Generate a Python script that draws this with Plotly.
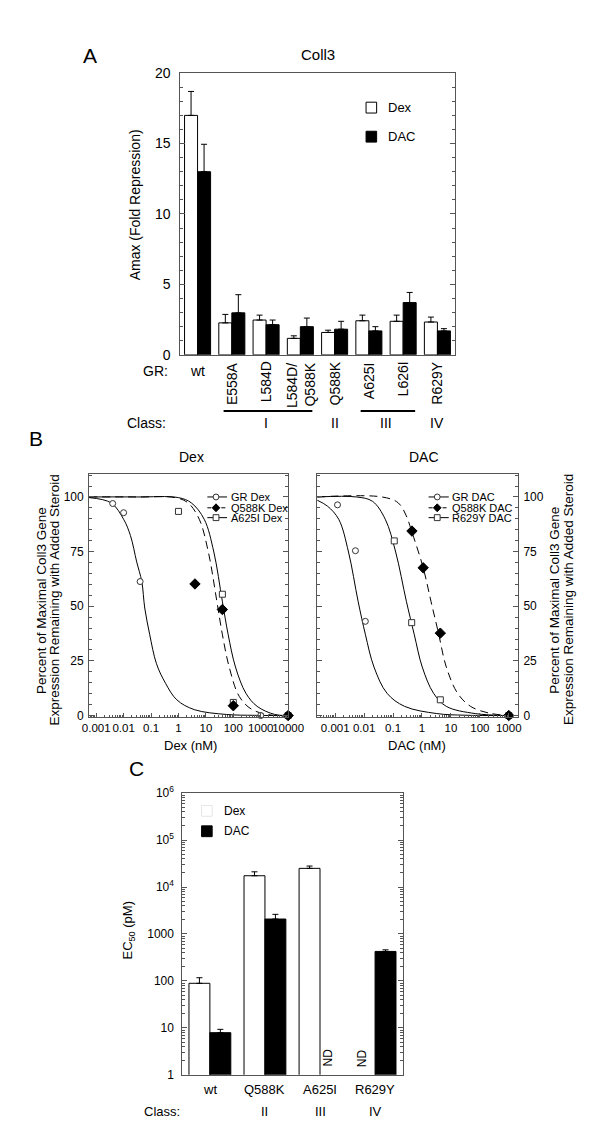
import plotly.graph_objects as go

W, H = 602, 1129
FONT = "Liberation Sans, Arial, sans-serif"
AXIS = "#555555"

# ---- panel A: Amax (fold repression) on Coll3
a_mutants = ["wt", "E558A", "L584D", "L584D/Q588K", "Q588K", "A625I", "L626I", "R629Y"]
a_labels = ["wt", "E558A", "L584D", "L584D/<br>Q588K", "Q588K", "A625I", "L626I", "R629Y"]
a_dex = [17.0, 2.27, 2.47, 1.17, 1.59, 2.42, 2.38, 2.33]
a_dex_err = [1.7, 0.6, 0.35, 0.18, 0.16, 0.4, 0.44, 0.35]
a_dac = [13.0, 2.98, 2.14, 2.0, 1.82, 1.7, 3.71, 1.7]
a_dac_err = [1.95, 1.29, 0.33, 0.61, 0.56, 0.3, 0.72, 0.16]
# class name, first mutant index, last mutant index
a_classes = [("I", 1, 3), ("II", 4, 4), ("III", 5, 6), ("IV", 7, 7)]

# ---- panel B: dose response, Dex
gr_dex_x = [0.004, 0.01, 0.04, 1000, 10000]
gr_dex_y = [97.0, 92.8, 61.3, 0, 0]
q588k_dex_x = [4, 40, 100, 10000]
q588k_dex_y = [60.2, 48.5, 4.5, 0]
a625i_dex_x = [1, 40, 100, 10000]
a625i_dex_y = [93.4, 55.5, 6.0, 0]
# fitted curves
gr_dex_fit_x = [0.00055, 0.0035, 0.01, 0.0178, 0.03, 0.046, 0.059, 0.089, 0.158, 0.34, 0.87, 3.8, 56, 600, 10000]
gr_dex_fit_y = [99.7, 97.3, 89.8, 82.3, 70.3, 61.3, 49.2, 37.2, 23.7, 14.7, 7.2, 2.7, 0.5, 0.1, 0]
q588k_dex_fit_x = [0.00055, 0.03, 0.76, 2.24, 5.75, 12.3, 25.1, 39.8, 70.8, 166, 490, 3236, 10000]
q588k_dex_fit_y = [100, 100, 99.7, 97.3, 89.8, 74.8, 52.3, 37.2, 22.2, 8.7, 2.7, 0, 0]
a625i_dex_fit_x = [0.00055, 0.03, 1, 2.95, 8.7, 19.5, 39.8, 64.6, 120, 288, 741, 3236, 10000]
a625i_dex_fit_y = [100, 100, 99.7, 97.3, 89.8, 74.8, 52.3, 37.2, 22.2, 10.2, 4.2, 0.5, 0]

# ---- panel B: dose response, DAC
gr_dac_x = [0.0012, 0.005, 0.011, 1000]
gr_dac_y = [96.4, 75.4, 43.1, 0]
q588k_dac_x = [0.45, 1.1, 4.3, 1000]
q588k_dac_y = [84.4, 67.6, 37.7, 0]
r629y_dac_x = [0.11, 0.44, 4.3, 1000]
r629y_dac_y = [79.9, 42.5, 7.2, 0]
gr_dac_fit_x = [0.00024, 0.00054, 0.00132, 0.00288, 0.00617, 0.011, 0.0219, 0.0617, 0.251, 3.24, 30, 1000]
gr_dac_fit_y = [98.5, 95.8, 89.8, 74.8, 52.3, 37.2, 22.2, 10.2, 4.2, 0.9, 0.15, 0]
q588k_dac_fit_x = [0.00024, 0.0417, 0.151, 0.288, 0.437, 1.10, 2.04, 3.72, 6.92, 17.0, 47.9, 195, 1000]
q588k_dac_fit_y = [100, 100, 97.3, 91.3, 84.4, 67.6, 52.3, 37.7, 22.2, 10.2, 4.2, 1.2, 0]
r629y_dac_fit_x = [0.00024, 0.0054, 0.0195, 0.0537, 0.123, 0.288, 0.537, 1.02, 2.51, 6.92, 69, 1000]
r629y_dac_fit_y = [100, 100, 98, 89.8, 74.8, 52.3, 37.2, 22.2, 10.2, 4.2, 0.9, 0]

dex_ticks = [0.001, 0.01, 0.1, 1, 10, 100, 1000, 10000]
dex_ticktext = ["0.001", "0.01", "0.1", "1", "10", "100", "1000", "10000"]
dac_ticks = [0.001, 0.01, 0.1, 1, 10, 100, 1000]
dac_ticktext = ["0.001", "0.01", "0.1", "1", "10", "100", "1000"]

# ---- panel C: EC50 (pM)
c_mutants = ["wt", "Q588K", "A625I", "R629Y"]
c_classes = ["", "II", "III", "IV"]
c_dex = [89, 17400, 25000, None]
c_dex_err = [28, 3700, 3000, 0]
c_dac = [7.9, 2080, None, 425]
c_dac_err = [1.4, 540, 0, 35]
c_ticks = [1, 10, 100, 1000, 1e4, 1e5, 1e6]
c_ticktext = ["1", "10", "100", "1000", "10<sup>4</sup>", "10<sup>5</sup>", "10<sup>6</sup>"]


def X(p):
    return p / W


def Y(p):
    return 1 - p / H


def note(text, x, y, size=13, **kw):
    d = dict(text=text, x=X(x), y=Y(y), xref="paper", yref="paper", showarrow=False,
             xanchor="center", yanchor="middle", font=dict(size=size, color="black", family=FONT))
    d.update(kw)
    return d


def log_minor(lo, hi):
    return [m * 10 ** e for e in range(lo, hi) for m in range(2, 10)]


def up_err(vals):
    return dict(type="data", symmetric=False, array=vals, arrayminus=[0] * len(vals),
                color="black", thickness=1, width=3)


fig = go.Figure()

# panel A bars
fig.add_trace(go.Bar(x=a_mutants, y=a_dex, name="Dex", marker=dict(color="white", line=dict(color="black", width=1)),
                     error_y=up_err(a_dex_err), xaxis="x", yaxis="y", showlegend=False))
fig.add_trace(go.Bar(x=a_mutants, y=a_dac, name="DAC", marker=dict(color="black", line=dict(color="black", width=1)),
                     error_y=up_err(a_dac_err), xaxis="x", yaxis="y", showlegend=False))

# panel B curves
line = dict(color="black", width=1)
dash = dict(color="black", width=1, dash="8px,5px")
for fx, fy, st, ax in [
    (gr_dex_fit_x, gr_dex_fit_y, line, "2"),
    (a625i_dex_fit_x, a625i_dex_fit_y, line, "2"),
    (q588k_dex_fit_x, q588k_dex_fit_y, dash, "2"),
    (gr_dac_fit_x, gr_dac_fit_y, line, "3"),
    (r629y_dac_fit_x, r629y_dac_fit_y, line, "3"),
    (q588k_dac_fit_x, q588k_dac_fit_y, dash, "3"),
]:
    fig.add_trace(go.Scatter(x=fx, y=fy, mode="lines", line=dict(st, shape="spline"),
                             xaxis="x" + ax, yaxis="y" + ax, showlegend=False, hoverinfo="skip"))

circle = dict(symbol="circle", size=6, color="white", line=dict(color="#333", width=1))
square = dict(symbol="square", size=6, color="white", line=dict(color="#333", width=1))
diamond = dict(symbol="diamond", size=8, color="black", line=dict(color="black", width=1))
for px_, py_, mk, name, ax in [
    (gr_dex_x, gr_dex_y, circle, "GR Dex", "2"),
    (a625i_dex_x, a625i_dex_y, square, "A625I Dex", "2"),
    (q588k_dex_x, q588k_dex_y, diamond, "Q588K Dex", "2"),
    (gr_dac_x, gr_dac_y, circle, "GR DAC", "3"),
    (r629y_dac_x, r629y_dac_y, square, "R629Y DAC", "3"),
    (q588k_dac_x, q588k_dac_y, diamond, "Q588K DAC", "3"),
]:
    fig.add_trace(go.Scatter(x=px_, y=py_, mode="markers", marker=mk, name=name, cliponaxis=False,
                             xaxis="x" + ax, yaxis="y" + ax, showlegend=False))

# panel C bars
fig.add_trace(go.Bar(x=c_mutants, y=c_dex, name="Dex", marker=dict(color="white", line=dict(color="black", width=1)),
                     error_y=up_err(c_dex_err), xaxis="x4", yaxis="y4", showlegend=False))
fig.add_trace(go.Bar(x=c_mutants, y=c_dac, name="DAC", marker=dict(color="black", line=dict(color="black", width=1)),
                     error_y=up_err(c_dac_err), xaxis="x4", yaxis="y4", showlegend=False))

tick_common = dict(ticks="inside", tickcolor=AXIS, showline=True, linecolor=AXIS, linewidth=1, tickangle=0,
                   showgrid=False, zeroline=False, tickfont=dict(size=12, color="black", family=FONT))

fig.update_layout(
    width=W, height=H, autosize=False, margin=dict(l=0, r=0, t=0, b=0),
    paper_bgcolor="white", plot_bgcolor="white", showlegend=False,
    barmode="group", bargap=0.24, bargroupgap=0,
    font=dict(family=FONT, color="black"),
    xaxis=dict(domain=[X(172), X(457)], anchor="y", range=[-0.5, 7.5], showticklabels=False,
               showline=True, linecolor=AXIS, mirror=True, ticks="", showgrid=False),
    yaxis=dict(tick_common, domain=[Y(343), Y(57)], anchor="x", range=[0, 20], dtick=5, ticklen=5,
               mirror="ticks", tickfont=dict(size=14, family=FONT, color="black"), ticklabelstandoff=6,
               minor=dict(dtick=1, ticks="inside", ticklen=3, tickcolor=AXIS)),
    xaxis2=dict(tick_common, domain=[X(77), X(284)], anchor="y2", type="log", range=[-3.26, 4.0],
                tickmode="array", tickvals=dex_ticks, ticktext=dex_ticktext, ticklen=4, mirror=True,
                tickfont=dict(size=11.5, family=FONT, color="black"),
                minor=dict(tickmode="array", tickvals=log_minor(-4, 4), ticks="inside", ticklen=2, tickcolor=AXIS)),
    yaxis2=dict(tick_common, domain=[Y(711), Y(464)], anchor="x2", range=[-0.8, 110.5], tick0=0, dtick=25,
                ticklen=5, mirror="ticks", ticklabelstandoff=2,
                minor=dict(dtick=5, ticks="inside", ticklen=3, tickcolor=AXIS)),
    xaxis3=dict(tick_common, domain=[X(314), X(523)], anchor="y3", type="log", range=[-3.63, 3.32],
                tickmode="array", tickvals=dac_ticks, ticktext=dac_ticktext, ticklen=4, mirror=True,
                tickfont=dict(size=11.5, family=FONT, color="black"),
                minor=dict(tickmode="array", tickvals=log_minor(-4, 4), ticks="inside", ticklen=2, tickcolor=AXIS)),
    yaxis3=dict(tick_common, domain=[Y(711), Y(464)], anchor="x3", side="right", range=[-0.8, 110.5],
                tick0=0, dtick=25, ticklen=5, mirror="ticks", ticklabelstandoff=2,
                minor=dict(dtick=5, ticks="inside", ticklen=3, tickcolor=AXIS)),
    xaxis4=dict(domain=[X(174), X(403)], anchor="y4", range=[-0.5, 3.5], showticklabels=False,
                showline=True, linecolor=AXIS, mirror=True, ticks="", showgrid=False),
    yaxis4=dict(tick_common, domain=[Y(1074), Y(788)], anchor="x4", type="log", range=[0, 6],
                tickmode="array", tickvals=c_ticks, ticktext=c_ticktext, ticklen=5, mirror="ticks",
                ticklabelstandoff=5,
                minor=dict(tickmode="array", tickvals=log_minor(0, 6), ticks="inside", ticklen=3, tickcolor=AXIS)),
)

ann = []
shapes = []

# panel letters and titles
ann.append(note("A", 78, 39, 21))
ann.append(note("B", 22, 428, 21))
ann.append(note("C", 126, 763, 21))
ann.append(note("Coll3", 315, 38, 15))
ann.append(note("Amax (Fold Repression)", 125, 191, 14, textangle=-90))

# panel A category labels
ann.append(note("GR:", 146, 359, 14))
for i, lab in enumerate(a_labels):
    if i == 0:
        ann.append(dict(note(lab, 0, 359, 14), x=a_mutants[i], xref="x"))
    else:
        ann.append(dict(note(lab, 0, 348, 14, textangle=-90, yanchor="top", align="right"),
                        x=a_mutants[i], xref="x"))
ann.append(note("Class:", 137, 412, 14))
for name, first, last in a_classes:
    ann.append(dict(note(name, 0, 412, 14), x=(first + last) / 2, xref="x"))
    if last > first:
        shapes.append(dict(type="line", xref="x", yref="paper", x0=first - 0.24, x1=last + 0.35,
                           y0=Y(400), y1=Y(400), line=dict(color="black", width=2)))

# panel A legend
for label, fill, yc in [("Dex", "white", 92), ("DAC", "black", 121.5)]:
    shapes.append(dict(type="rect", xref="paper", yref="paper", x0=X(365), x1=X(376), y0=Y(yc + 5.5),
                       y1=Y(yc - 5.5), fillcolor=fill, line=dict(color="black", width=1)))
    ann.append(note(label, 386, yc, 13, xanchor="left"))

# panel B titles
ann.append(note("Dex", 184, 447, 14))
ann.append(note("DAC", 425, 447, 14))
ann.append(note("Dex (nM)", 182, 740, 13))
ann.append(note("DAC (nM)", 418, 740, 13))
for x1, x2 in [(27, 41), (561, 575)]:
    ann.append(note("Percent of Maximal Coll3 Gene", x1, 592, 13.5, textangle=-90))
    ann.append(note("Expression Remaining with Added Steroid", x2, 592, 13.5, textangle=-90))


# panel B legends (drawn as sample line + symbol)
def legend_entry(x0, x1, xm, yc, kind, dashed, label):
    st = dict(color="black", width=1)
    if dashed:
        st["dash"] = "4px,3px"
    shapes.append(dict(type="line", xref="paper", yref="paper", x0=X(x0), x1=X(x1), y0=Y(yc), y1=Y(yc), line=st))
    r = 3
    if kind == "circle":
        shapes.append(dict(type="circle", xref="paper", yref="paper", x0=X(xm - r), x1=X(xm + r),
                           y0=Y(yc + r), y1=Y(yc - r), fillcolor="white", line=dict(color="#333", width=1)))
    elif kind == "square":
        shapes.append(dict(type="rect", xref="paper", yref="paper", x0=X(xm - r), x1=X(xm + r),
                           y0=Y(yc + r), y1=Y(yc - r), fillcolor="white", line=dict(color="#333", width=1)))
    else:
        r = 4
        path = "M {} {} L {} {} L {} {} L {} {} Z".format(X(xm - r), Y(yc), X(xm), Y(yc - r), X(xm + r), Y(yc),
                                                          X(xm), Y(yc + r))
        shapes.append(dict(type="path", xref="paper", yref="paper", path=path, fillcolor="black",
                           line=dict(color="black", width=1)))
    ann.append(note(label, x1 + 1.5, yc, 11, xanchor="left"))


for (kind, dashed, lab), yc in zip([("circle", False, "GR Dex"), ("diamond", True, "Q588K Dex"),
                                     ("square", False, "A625I Dex")], [487.3, 498.3, 508.3]):
    legend_entry(200, 220.5, 209, yc, kind, dashed, lab)
for (kind, dashed, lab), yc in zip([("circle", False, "GR DAC"), ("diamond", True, "Q588K DAC"),
                                     ("square", False, "R629Y DAC")], [487.3, 498.3, 508.3]):
    legend_entry(430, 451, 439, yc, kind, dashed, lab)

# panel C labels
ann.append(note("EC<sub>50</sub> (pM)", 118, 927, 13, textangle=-90))
for m, cl in zip(c_mutants, c_classes):
    ann.append(dict(note(m, 0, 1089, 13), x=m, xref="x4"))
    if cl:
        ann.append(dict(note(cl, 0, 1111, 13), x=m, xref="x4"))
ann.append(note("Class:", 153, 1111, 13))
ann.append(note("ND", 325, 1068, 12, textangle=-90, yanchor="bottom"))
ann.append(note("ND", 361, 1068, 12, textangle=-90, yanchor="bottom"))

# panel C legend
for label, fill, yc in [("Dex", "white", 806), ("DAC", "black", 826.7)]:
    shapes.append(dict(type="rect", xref="paper", yref="paper", x0=X(194), x1=X(205), y0=Y(yc + 5.5),
                       y1=Y(yc - 5.5), fillcolor=fill,
                       line=dict(color="#e6e6e6" if fill == "white" else "black", width=1)))
    ann.append(note(label, 215, yc, 12, xanchor="left"))

fig.update_layout(annotations=ann, shapes=shapes)
fig.write_html("out.html")
